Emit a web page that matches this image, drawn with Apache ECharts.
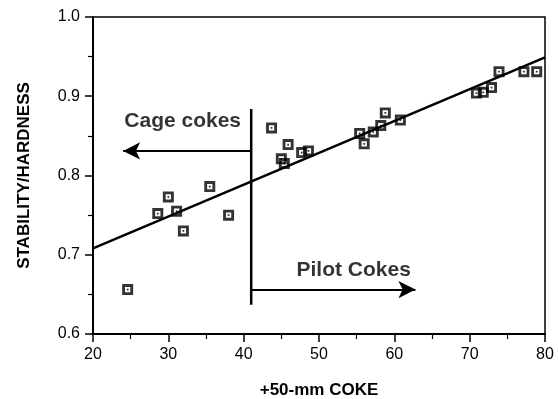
<!DOCTYPE html>
<html>
<head>
<meta charset="utf-8">
<script src="https://cdn.jsdelivr.net/npm/echarts@6/dist/echarts.min.js"></script>
<style>
  html, body { margin: 0; padding: 0; background: #fff; }
  #chart { width: 558px; height: 399px; }
</style>
</head>
<body>
<div id="chart"></div>
<script>
// Coke size fraction (+50 mm, %) against stability/hardness ratio
const cokeX = [24.6, 28.6, 30.0, 31.1, 32.0, 35.5, 38.0,
               43.7, 45.0, 45.4, 45.9, 47.7, 48.6,
               55.4, 56.0, 57.2, 58.2, 58.8, 60.8,
               70.9, 71.8, 72.9, 73.9, 77.2, 78.9];
const ratioY = [0.656, 0.752, 0.773, 0.755, 0.730, 0.786, 0.750,
                0.860, 0.821, 0.815, 0.839, 0.829, 0.831,
                0.853, 0.840, 0.855, 0.863, 0.879, 0.870,
                0.904, 0.905, 0.911, 0.931, 0.931, 0.931];

// Least-squares fit line end points
const fitX = [20, 80];
const fitY = [0.708, 0.949];

// Divider between cage and pilot cokes
const dividerX = 41;
const dividerY = [0.637, 0.884];

// Arrows: [start x, end x, y]
const cageArrow = [41, 24, 0.831];
const pilotArrow = [41, 62.8, 0.656];

// Region labels: [text, x, y]
const regionLabels = [['Cage cokes', 31.9, 0.868], ['Pilot Cokes', 54.6, 0.680]];

const xTicks = [20, 30, 40, 50, 60, 70, 80];
const yTicks = [0.6, 0.7, 0.8, 0.9, 1.0];

const font = 'Liberation Sans, Arial, Helvetica, sans-serif';

// Square marker with a hollow centre and a small dot
const markerPath = 'path://M0,0H10V10H0Z M2.6,2.6V7.4H7.4V2.6Z M4.2,4.2H5.8V5.8H4.2Z';

const chart = echarts.init(document.getElementById('chart'), null, { renderer: 'canvas' });

const option = {
  animation: false,
  backgroundColor: '#fff',
  grid: {
    left: 93, right: 13, top: 17, bottom: 65,
    containLabel: false, outerBoundsMode: 'none',
    show: true, borderColor: '#000', borderWidth: 1.5
  },
  xAxis: {
    type: 'value', min: xTicks[0], max: xTicks[xTicks.length - 1], interval: 10,
    name: '+50-mm COKE', nameLocation: 'middle', nameGap: 48,
    nameTextStyle: { fontFamily: font, fontWeight: 'bold', fontSize: 17, color: '#000' },
    axisLine: { show: true, lineStyle: { color: '#000', width: 2 } },
    axisTick: { show: true, inside: false, length: 8, lineStyle: { color: '#000', width: 1.5 } },
    minorTick: { show: true, splitNumber: 2, length: 5, lineStyle: { color: '#000', width: 1.2 } },
    axisLabel: { fontFamily: font, fontSize: 16, color: '#000', margin: 13 },
    splitLine: { show: false }
  },
  yAxis: {
    type: 'value', min: yTicks[0], max: yTicks[yTicks.length - 1], interval: 0.1,
    name: 'STABILITY/HARDNESS', nameLocation: 'middle', nameGap: 60, nameRotate: 90,
    nameTextStyle: { fontFamily: font, fontWeight: 'bold', fontSize: 17, color: '#000' },
    axisLine: { show: true, lineStyle: { color: '#000', width: 2 } },
    axisTick: { show: true, inside: false, length: 8, lineStyle: { color: '#000', width: 1.5 } },
    minorTick: { show: true, splitNumber: 2, length: 5, lineStyle: { color: '#000', width: 1.2 } },
    axisLabel: { fontFamily: font, fontSize: 16, color: '#000', margin: 13,
                 formatter: v => v.toFixed(1) },
    splitLine: { show: false }
  },
  series: [
    {
      type: 'line',
      data: fitX.map((x, i) => [x, fitY[i]]),
      symbol: 'none',
      lineStyle: { color: '#000', width: 2.5 },
      z: 2
    },
    {
      type: 'line',
      data: dividerY.map(y => [dividerX, y]),
      symbol: 'none',
      lineStyle: { color: '#000', width: 2.5 },
      z: 2,
      markLine: {
        silent: true,
        symbol: ['none', 'arrow'],
        symbolSize: [13, 17],
        label: { show: false },
        lineStyle: { color: '#000', width: 2, type: 'solid' },
        data: [
          [{ coord: [cageArrow[0], cageArrow[2]] }, { coord: [cageArrow[1], cageArrow[2]] }],
          [{ coord: [pilotArrow[0], pilotArrow[2]] }, { coord: [pilotArrow[1], pilotArrow[2]] }]
        ]
      }
    },
    {
      type: 'scatter',
      data: cokeX.map((x, i) => [x, ratioY[i]]),
      symbol: markerPath,
      symbolSize: 11,
      itemStyle: { color: '#000' },
      z: 5
    },
    {
      type: 'scatter',
      data: regionLabels.map(r => [r[1], r[2]]),
      symbol: 'circle',
      symbolSize: 1,
      itemStyle: { color: 'rgba(0,0,0,0)' },
      silent: true,
      label: {
        show: true, position: 'inside',
        formatter: p => regionLabels[p.dataIndex][0],
        fontFamily: font, fontWeight: 'bold', fontSize: 21, color: '#000'
      },
      z: 6
    }
  ]
};

chart.setOption(option);
</script>
</body>
</html>
